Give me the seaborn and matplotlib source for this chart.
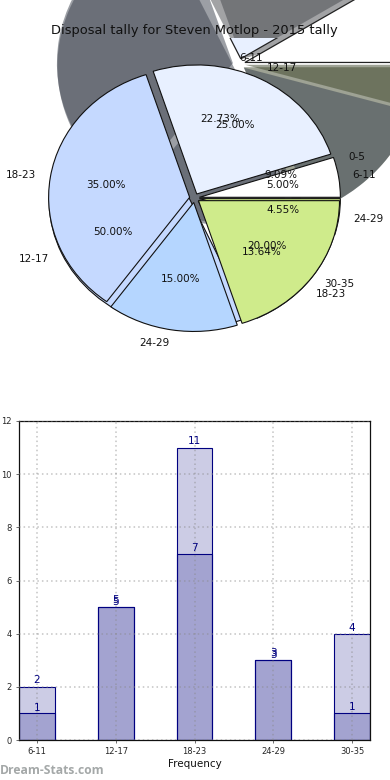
import numpy as np
import pandas as pd
import matplotlib
matplotlib.use("Agg")
import matplotlib.pyplot as plt
from matplotlib.colors import to_rgb
import seaborn as sns

W, H = 390, 780
categories = ["6-11", "12-17", "18-23", "24-29", "30-35"]
tally_a = [2, 5, 11, 3, 1]
tally_b = [1, 5, 7, 3, 4]
labels_a = ["0-5", "6-11", "12-17", "18-23", "24-29"]
labels_b = ["6-11", "12-17", "18-23", "24-29", "30-35"]
pie_colors = ["#FFFFFF", "#E8F0FF", "#C5D9FF", "#B5D6FF", "#CFEB8B"]
explode = [0.035] * 5
title = "Disposal tally for Steven Motlop - 2015 tally"

sns.set_theme(style="white", rc={"font.family": "DejaVu Sans"})
plt.rcParams["font.family"] = "DejaVu Sans"
fig = plt.figure(figsize=(W / 100, H / 100), dpi=100)

def px_axes(l, t, r, b, **kw):
    return fig.add_axes([l / W, 1 - b / H, (r - l) / W, (b - t) / H], **kw)

# displaced, elliptical shadow layer
SCX, SCY, SA, SB = 239, 64, 176, 157
back = px_axes(0, 0, W, H)
shade = [tuple(0.3 * c for c in to_rgb(k)) for k in pie_colors]
for vals in (tally_b, tally_a):
    ws, _ = back.pie(vals, colors=shade, explode=explode,
                     wedgeprops=dict(alpha=0.5, linewidth=0))
    ws[0].set_visible(False)
ws, _ = back.pie(tally_a, colors=pie_colors, explode=explode,
                 wedgeprops=dict(edgecolor="#222222", linewidth=0.9))
for w in ws[1:]:
    w.set_visible(False)
back.set_aspect("auto")
back.set_xlim(-SCX / SA, (W - SCX) / SA)
back.set_ylim(-(H - SCY) / SB, SCY / SB)
back.axis("off")

# the same layer's pale wedge, cut at the top of the pie axes
cut = px_axes(0, 38, W, H)
ws, _ = cut.pie(tally_a, colors=pie_colors, explode=explode,
                wedgeprops=dict(edgecolor="#222222", linewidth=0.9))
for i, w in enumerate(ws):
    w.set_visible(i == 1)
    w.set_clip_on(True)
cut.set_aspect("auto")
cut.set_xlim(-SCX / SA, (W - SCX) / SA)
cut.set_ylim(-(H - SCY) / SB, (SCY - 38) / SB)
cut.axis("off")

# main pies
main = px_axes(19, 38, 370, 358)
kw = dict(autopct="%.2f%%", pctdistance=0.6, labeldistance=1.1, explode=explode,
          textprops=dict(fontsize=7.5, color="#111111"),
          wedgeprops=dict(edgecolor="#111111", linewidth=0.8))
wa, _, _ = main.pie(tally_a, labels=labels_a, colors=pie_colors, **kw)
wa[0].set_visible(False)
wa[1].set_visible(False)
main.pie(tally_b, labels=labels_b, colors=pie_colors, **kw)
main.set_aspect("auto")
main.set_xlim(-175.5 / 141, 175.5 / 141)
main.set_ylim(-160 / 129, 160 / 129)
main.patch.set_visible(False)
main.set_title(title, fontsize=9.35, color="#111111", y=1.0, pad=3)

# bars
bar = px_axes(19, 421, 370, 740)
df = pd.DataFrame({"cat": categories, "a": tally_a, "b": tally_b})
sns.barplot(data=df, x="cat", y="a", ax=bar, width=0.456, color="navy", saturation=1)
sns.barplot(data=df, x="cat", y="b", ax=bar, width=0.456, color="navy", saturation=1)
for p in bar.patches:
    p.set_facecolor((0, 0, 0.5, 0.2))
    p.set_edgecolor("navy")
    p.set_linewidth(0.8)
for i, (a, b) in enumerate(zip(tally_a, tally_b)):
    bar.text(i, a + 0.07, str(a), ha="center", va="bottom", fontsize=7.5, color="navy")
    bar.text(i, b + 0.02, str(b), ha="center", va="bottom", fontsize=7.5, color="navy")
bar.set_xlim(-0.228, 4.228)
bar.set_ylim(0, 12)
bar.set_yticks(range(0, 13, 2))
bar.grid(True, linestyle=(0, (1, 2)), color="#888888", linewidth=1.1, alpha=0.5)
bar.set_axisbelow(False)
bar.tick_params(axis="both", labelsize=6, length=2, width=0.5, pad=3, color="#333333", left=True, bottom=True)
bar.set_xlabel("Frequency", fontsize=7.5, labelpad=2, color="#111111")
bar.set_ylabel("Disposal tally", fontsize=7.5, color="#111111")
bar.yaxis.set_label_coords(-0.053, 0.5)
for s in bar.spines.values():
    s.set_visible(True)
    s.set_color("#111111")
    s.set_linewidth(0.9)

fig.text(0, 1 - 771 / H, "Dream-Stats.com", fontsize=8.7, fontweight="bold", color="#a4a8a8",
         family="Open Sans", ha="left", va="center")
fig.savefig("out.png", dpi=100)
